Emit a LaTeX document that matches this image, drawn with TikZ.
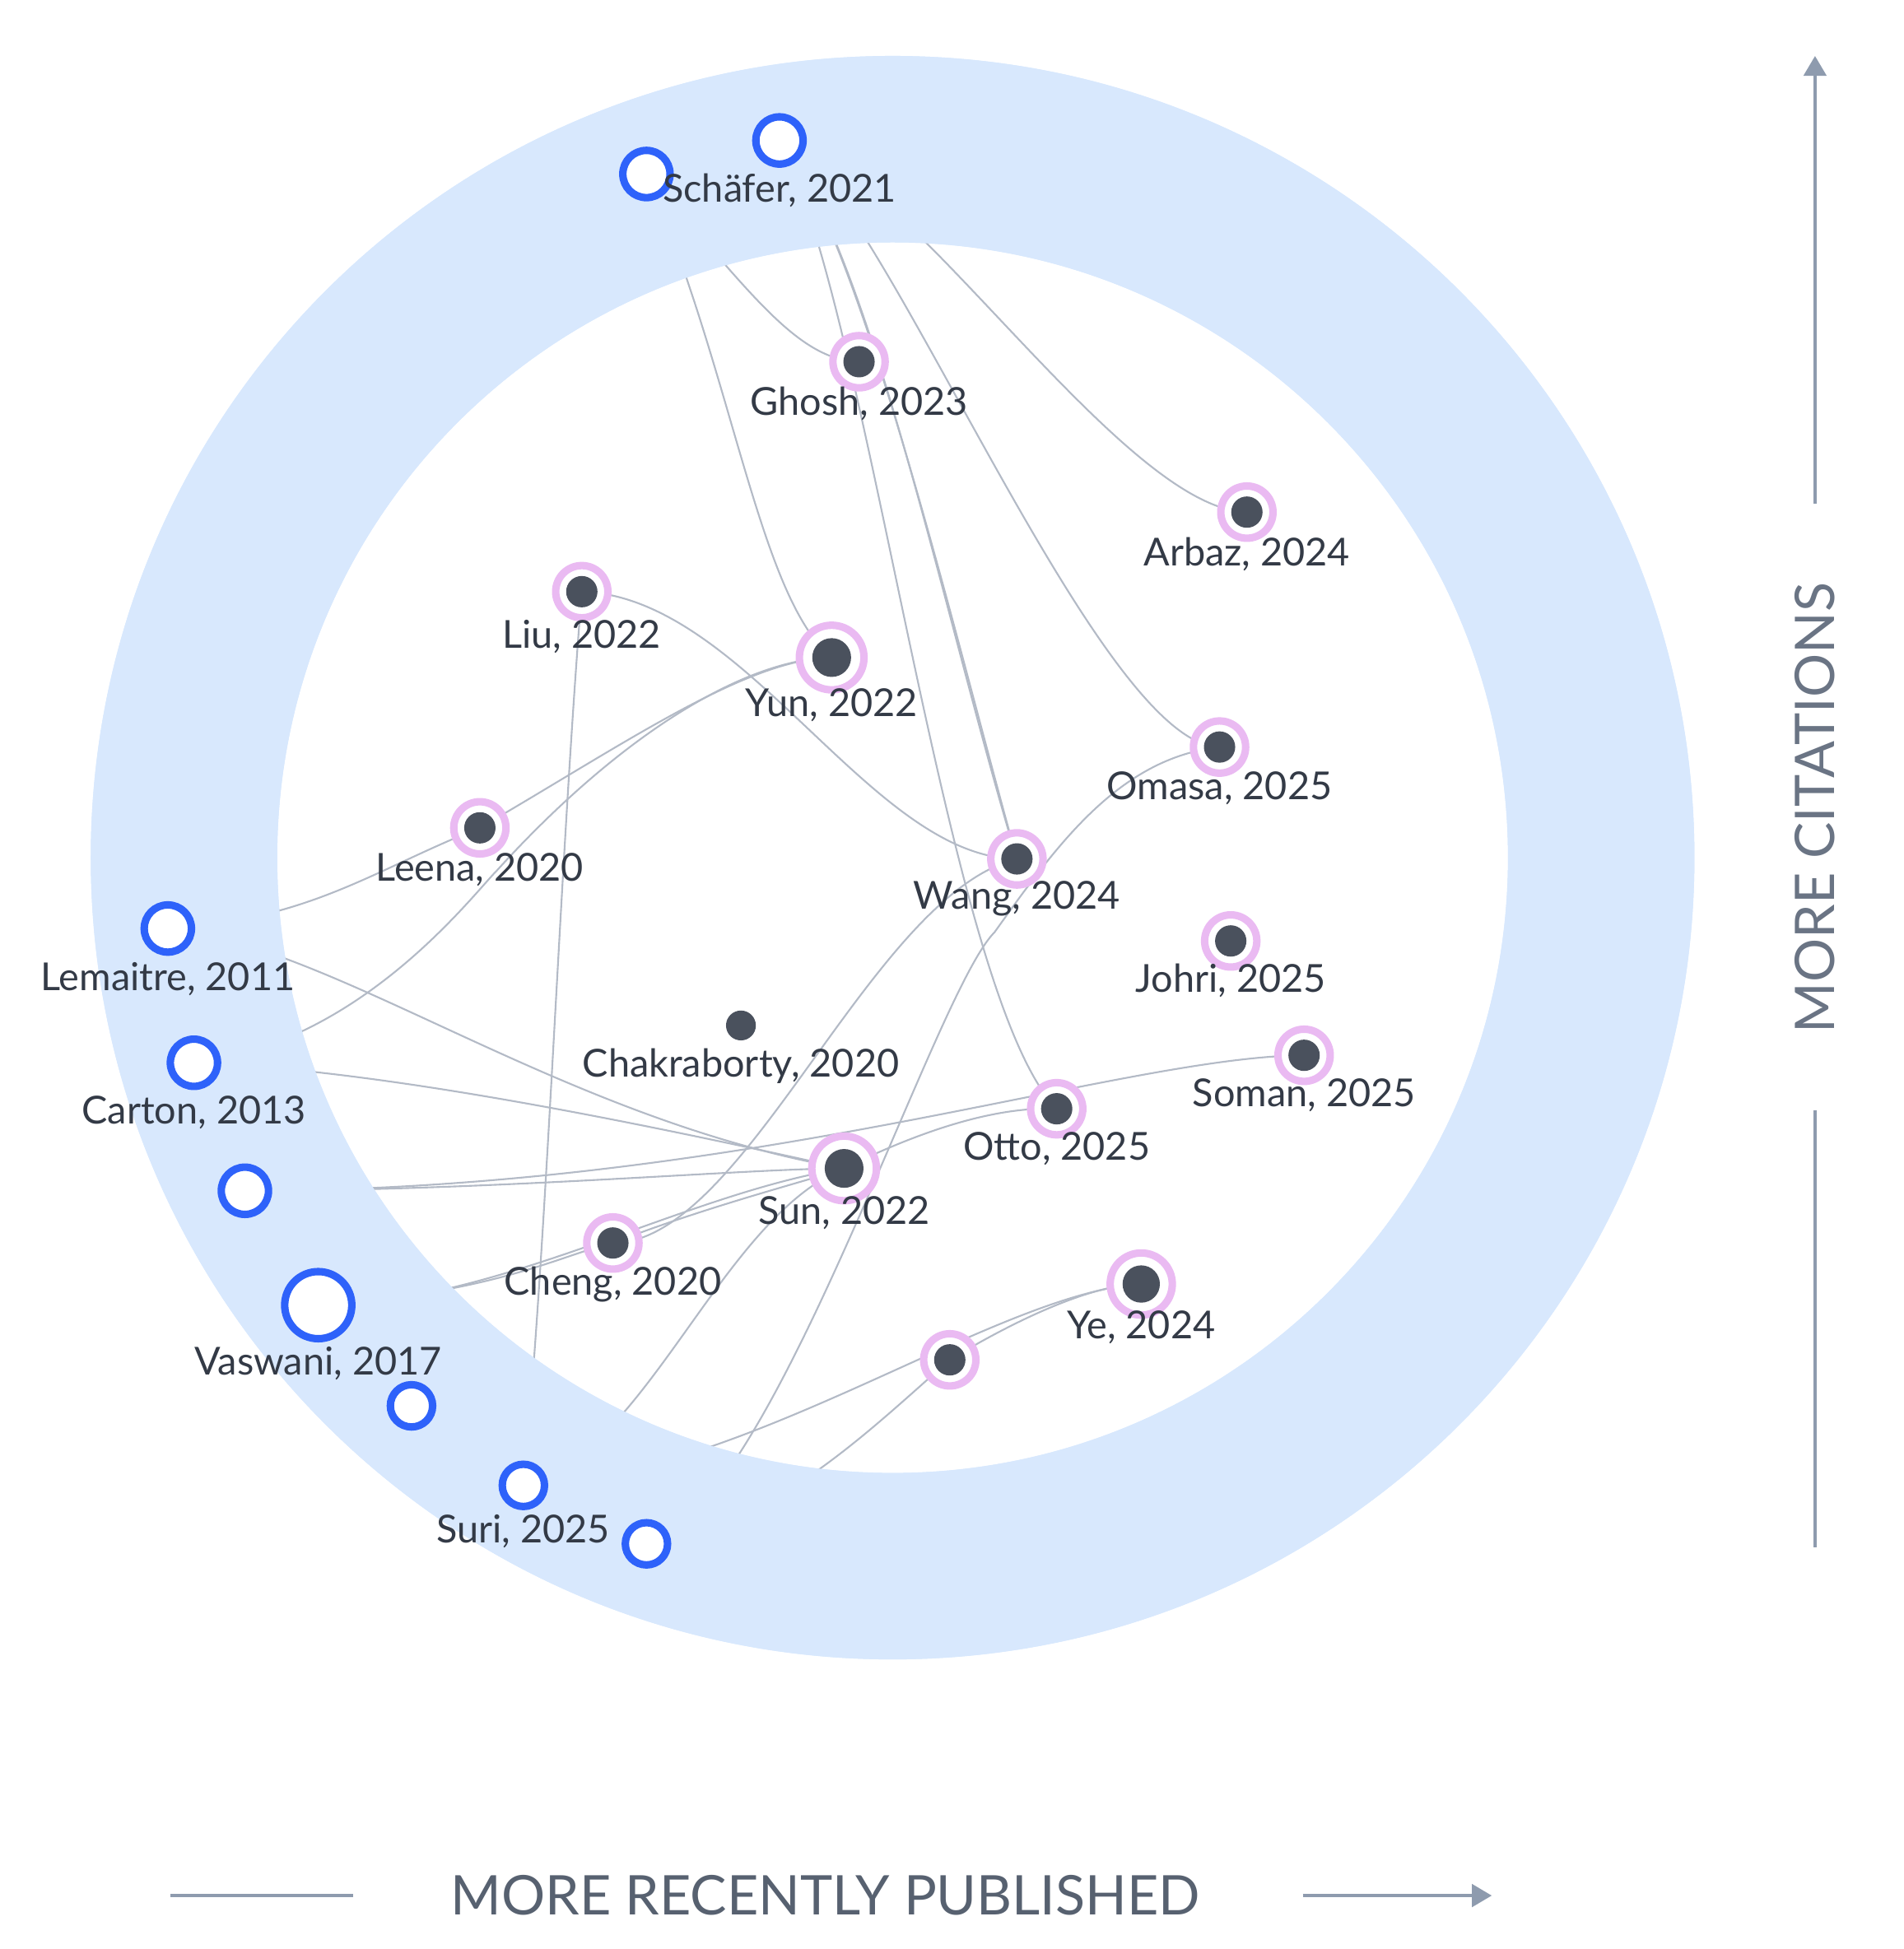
\documentclass[tikz,border=0pt]{standalone}
\usepackage{fontspec}
\setmainfont{Lato}
\usetikzlibrary{arrows.meta,backgrounds}
\definecolor{ring}{HTML}{D8E8FD}
\definecolor{bl}{HTML}{2E62FA}
\definecolor{pk}{HTML}{EABAF2}
\definecolor{dk}{HTML}{4A515D}
\definecolor{ed}{HTML}{B3BAC6}
\definecolor{ax}{HTML}{8E9BAE}
\definecolor{tx}{HTML}{333A46}
\tikzset{
 x=0.5pt,y=-0.5pt,
 open/.style={circle,draw=bl,line width=3pt,fill=white,minimum size=#1,inner sep=0pt},
 open/.default=19pt,
 pn/.style={circle,draw=pk,line width=3pt,fill=white,minimum size=#1,inner sep=0pt,
   path picture={\fill[dk] (path picture bounding box.center) circle (0.3*#1);}},
 pn/.default=21pt,
 lab/.style={text=tx,font=\fontsize{15.5}{18}\selectfont,inner sep=0pt},
 e/.style={draw=ed,line width=0.7pt},
}
\begin{document}
\begin{tikzpicture}
\useasboundingbox (0,0) rectangle (1531,1568);
\fill[ring,even odd rule] (718,690) circle (322.5pt) (718,690) circle (247.5pt);
% nodes
\node[open] (s1) at (520,140) {};
\node[open] (s2) at (627,113) {};
\node[open] (lem) at (135,747) {};
\node[open] (car) at (156,855) {};
\node[open] (u1) at (197,958) {};
\node[open=27pt] (vas) at (256,1050) {};
\node[open=17pt] (u2) at (331,1131) {};
\node[open=17pt] (sur) at (421,1195) {};
\node[open=17pt] (u3) at (520,1242) {};
\node[pn] (gho) at (691,291) {};
\node[pn] (arb) at (1003,412) {};
\node[pn] (liu) at (468,476) {};
\node[pn=26pt] (yun) at (669,529) {};
\node[pn] (lee) at (386,666) {};
\node[pn] (oma) at (981,601) {};
\node[pn] (wan) at (818,691) {};
\node[pn] (joh) at (990,757) {};
\node[circle,fill=dk,minimum size=12pt,inner sep=0pt] (cha) at (596,825) {};
\node[pn] (som) at (1049,849) {};
\node[pn] (ott) at (850,892) {};
\node[pn=26pt] (sun) at (679,940) {};
\node[pn] (che) at (493,1000) {};
\node[pn=25pt] (ye) at (918,1033) {};
\node[pn] (u4) at (764,1094) {};
% labels
\node[lab] (ls) at (627,153) {Schäfer, 2021};
\node[lab] (lgh) at (691,325) {Ghosh, 2023};
\node[lab] (lar) at (1003,446) {Arbaz, 2024};
\node[lab] (lli) at (468,512) {Liu, 2022};
\node[lab] (lyu) at (669,567) {Yun, 2022};
\node[lab] (lle) at (386,700) {Leena, 2020};
\node[lab] (lom) at (981,634) {Omasa, 2025};
\node[lab] (lwa) at (818,723) {Wang, 2024};
\node[lab] (llm) at (135,788) {Lemaitre, 2011};
\node[lab] (ljo) at (990,789) {Johri, 2025};
\node[lab] (lch) at (596,858) {Chakraborty, 2020};
\node[lab] (lso) at (1049,881) {Soman, 2025};
\node[lab] (lca) at (156,895) {Carton, 2013};
\node[lab] (lot) at (850,924) {Otto, 2025};
\node[lab] (lsu) at (679,976) {Sun, 2022};
\node[lab] (lce) at (493,1033) {Cheng, 2020};
\node[lab] (lye) at (918,1068) {Ye, 2024};
\node[lab] (lva) at (256,1097) {Vaswani, 2017};
\node[lab] (lsr) at (421,1232) {Suri, 2025};
% edges
\begin{scope}[on background layer]
\fill[ring,even odd rule] (718,690) circle (322.5pt) (718,690) circle (247.5pt);
\draw[e] (s1.center) .. controls (600,230) and (640,290) .. (gho.center);
\draw[e] (s1.center) .. controls (590,300) and (610,480) .. (yun.center);
\draw[e] (s2.center) .. controls (700,200) and (760,500) .. (wan.center);
\draw[e] (s2.center) .. controls (690,180) and (770,520) .. (wan.center);
\draw[e] (s2.center) .. controls (700,250) and (760,800) .. (ott.center);
\draw[e] (s2.center) .. controls (720,120) and (900,410) .. (arb.center);
\draw[e] (s2.center) .. controls (700,130) and (880,600) .. (oma.center);
\draw[e] (liu.center) .. controls (600,480) and (700,690) .. (wan.center);
\draw[e] (liu.center) .. controls (450,700) and (440,1000) .. (sur.center);
\draw[e] (lem.center) .. controls (250,740) and (300,700) .. (lee.center);
\draw[e] (lee.center) .. controls (500,600) and (600,530) .. (yun.center);
\draw[e] (lem.center) .. controls (270,760) and (450,900) .. (sun.center);
\draw[e] (car.center) .. controls (290,840) and (380,720) .. (400,700) .. controls (500,590) and (600,530) .. (yun.center);
\draw[e] (car.center) .. controls (300,860) and (500,900) .. (sun.center);
\draw[e] (u1.center) .. controls (400,958) and (600,940) .. (sun.center);
\draw[e] (u1.center) .. controls (600,958) and (900,850) .. (som.center);
\draw[e] (vas.center) .. controls (400,1050) and (550,960) .. (sun.center);
\draw[e] (vas.center) .. controls (400,1040) and (450,1010) .. (che.center);
\draw[e] (che.center) .. controls (600,1000) and (700,720) .. (wan.center);
\draw[e] (che.center) .. controls (570,970) and (650,950) .. (sun.center);
\draw[e] (sun.center) .. controls (740,910) and (800,890) .. (ott.center);
\draw[e] (sur.center) .. controls (520,1170) and (580,980) .. (sun.center);
\draw[e] (sur.center) .. controls (600,1190) and (800,1040) .. (ye.center);
\draw[e] (u3.center) .. controls (620,1220) and (750,800) .. (800,750) .. controls (850,680) and (900,610) .. (oma.center);
\draw[e] (u3.center) .. controls (620,1230) and (700,1150) .. (u4.center);
\draw[e] (u4.center) .. controls (820,1060) and (880,1033) .. (ye.center);
\end{scope}
% axes
\coordinate (a1) at (1460,405); \coordinate (a2) at (1460,45);
\coordinate (a3) at (1460,893); \coordinate (a4) at (1460,1245);
\draw[ax,line width=1.5pt,-{Triangle[length=8pt,width=9pt]}] (a1) -- (a2);
\draw[ax,line width=1.5pt] (a3) -- (a4);
\node[text=ax!60!tx,font=\fontsize{22}{26}\selectfont,rotate=90,inner sep=0pt] (yl) at (1460,650) {MORE CITATIONS};
\coordinate (b1) at (137,1525); \coordinate (b2) at (284,1525);
\coordinate (b3) at (1048,1525); \coordinate (b4) at (1200,1525);
\draw[ax,line width=1.5pt] (b1) -- (b2);
\draw[ax,line width=1.5pt,-{Triangle[length=8pt,width=9pt]}] (b3) -- (b4);
\node[text=ax!40!tx,font=\fontsize{22}{26}\selectfont,inner sep=0pt] (xl) at (664,1525) {MORE RECENTLY PUBLISHED};
\end{tikzpicture}
\end{document}
